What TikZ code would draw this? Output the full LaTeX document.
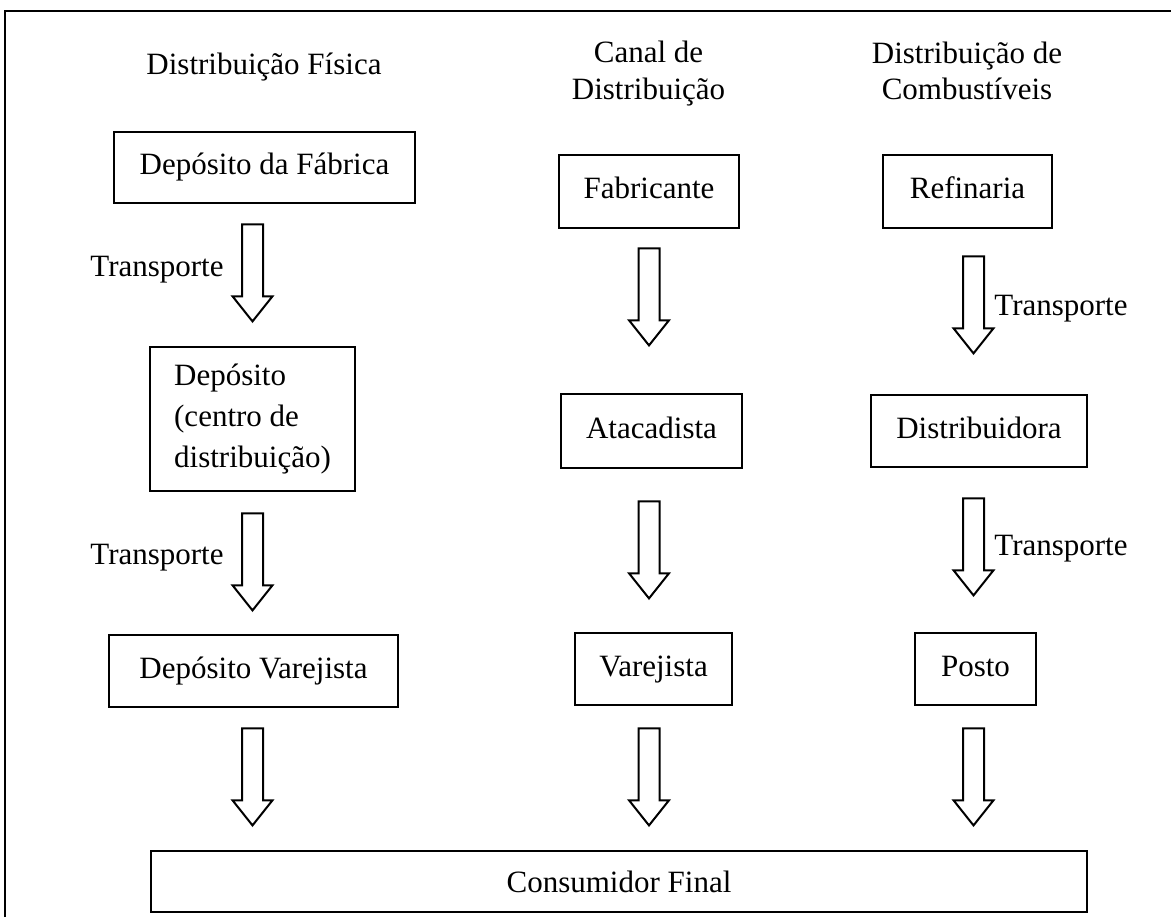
\documentclass[tikz,border=0pt]{standalone}
\usepackage{fontspec}
\setmainfont{Liberation Serif}
\usepackage{tikz}
\usetikzlibrary{shapes.arrows}

\tikzset{
    cell/.style={draw, line width=1pt, inner sep=0pt},
    box/.style={cell, text height=10pt, text depth=3pt},
    downarrow/.style={draw, line width=1pt, single arrow, shape border rotate=270,
        minimum height=48.5pt, minimum width=19pt, inner sep=4.75pt,
        single arrow head extend=4.75pt, single arrow tip angle=77, anchor=tip},
    lbl/.style={inner sep=0pt},
}

\begin{document}
\begin{tikzpicture}[x=0.5pt, y=-0.5pt, every node/.style={font=\fontsize{15.5}{18.5}\selectfont}]
        \useasboundingbox (0,0) rectangle (1171,917);
        \draw[line width=1pt] (5,917) -- (5,11) -- (1171,11);

        \node[lbl, anchor=base] (tfis)  at (264,74)   {Distribuição Física};
        \node[lbl, anchor=base] (tcan1) at (648.5,62) {Canal de};
        \node[lbl, anchor=base] (tcan2) at (648.5,99) {Distribuição};
        \node[lbl, anchor=base] (tcom1) at (967,63)   {Distribuição de};
        \node[lbl, anchor=base] (tcom2) at (967,99)   {Combustíveis};

        \node[box, minimum width=150.5pt, minimum height=35.5pt] (fabrica) at (264.5,167.5) {Depósito da Fábrica};
        \node[cell, align=left, minimum width=102.5pt, minimum height=72pt] (deposito) at (252.5,419) {Depósito\\[2pt](centro de\\[2pt]distribuição)};
        \node[box, minimum width=144.5pt, minimum height=36pt] (depvar) at (253.5,671) {Depósito Varejista};

        \node[box, minimum width=90pt, minimum height=36.5pt] (fabricante) at (649,191.5) {Fabricante};
        \node[box, minimum width=90.5pt, minimum height=37pt] (atacadista) at (651.5,431) {Atacadista};
        \node[box, minimum width=78.5pt, minimum height=36pt] (varejista) at (653.5,669) {Varejista};

        \node[box, minimum width=84.5pt, minimum height=36.5pt] (refinaria) at (967.5,191.5) {Refinaria};
        \node[box, minimum width=108pt, minimum height=36pt] (distribuidora) at (979,431) {Distribuidora};
        \node[box, minimum width=60.5pt, minimum height=36pt] (posto) at (975.5,669) {Posto};

        \node[box, text height=12.5pt, text depth=2pt, minimum width=468pt, minimum height=30.5pt] (consumidor) at (619,881.5) {Consumidor Final};

        \node[downarrow] (a11) at (252.5,323) {};
        \node[downarrow] (a12) at (252.5,612) {};
        \node[downarrow] (a13) at (252.5,827) {};
        \node[downarrow] (a21) at (649,347)   {};
        \node[downarrow] (a22) at (649,600)   {};
        \node[downarrow] (a23) at (649,827)   {};
        \node[downarrow] (a31) at (973.5,355) {};
        \node[downarrow] (a32) at (973.5,597) {};
        \node[downarrow] (a33) at (973.5,827) {};

        \node[lbl, anchor=base east] (tr1) at (224,276) {Transporte};
        \node[lbl, anchor=base east] (tr2) at (224,564) {Transporte};
        \node[lbl, anchor=base west] (tr3) at (994,315) {Transporte};
        \node[lbl, anchor=base west] (tr4) at (994,555) {Transporte};
    \end{tikzpicture}
\end{document}
